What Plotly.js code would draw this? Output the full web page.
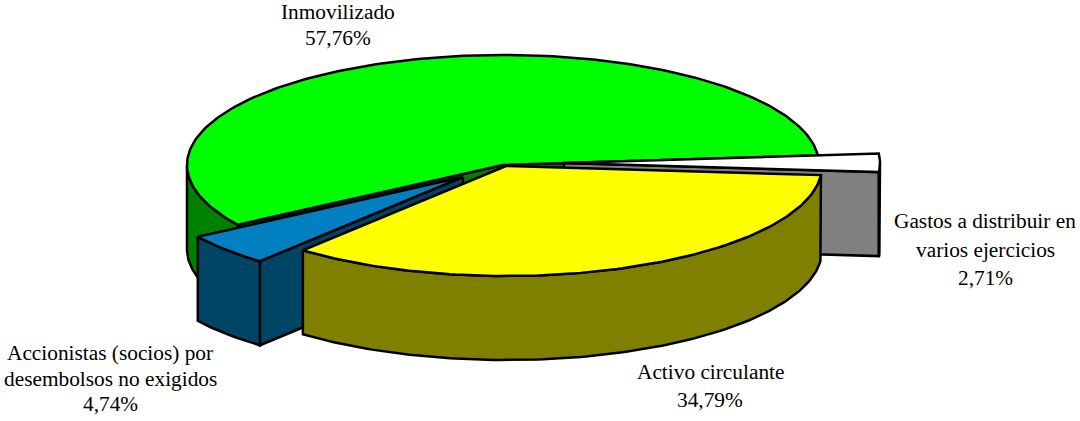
<!DOCTYPE html>
<html>
<head>
<meta charset="utf-8">
<script src="https://cdn.plot.ly/plotly-3.0.1.min.js"></script>
<style>html,body{margin:0;padding:0;background:#fff}</style>
</head>
<body>
<div id="chart" style="width:1080px;height:421px"></div>
<script>
// Data, in pie order (counter-clockwise from the start angle)
const categories = ["Inmovilizado", "Accionistas (socios) por<br>desembolsos no exigidos", "Activo circulante", "Gastos a distribuir en<br>varios ejercicios"];
const values = [57.76, 4.74, 34.79, 2.71];

// Styles
const topColors = ["#00FF00", "#0080C0", "#FFFF00", "#FFFFFF"];
const wallColors = ["#008000", "#004466", "#808000", "#808080"];

// Pie geometry, in the chart's axis units
const centre = [503, 165];
const radii = [316, 110];
const depth = 84;
const startAngle = 5;
const explodeX = [0, -40, 3, 61];
const explodeY = [0, 12, 1, -2];
const drawOrder = [0, 3, 1, 2];

// Label placement, one entry per category
const labelX = [338, 110, 710, 985];
const labelY = [12, 353, 372, 221];
const lineGap = [26, 25.5, 28, 28.5];

const rad = d => d * Math.PI / 180;
const point = (i, a, drop) => [
  centre[0] + explodeX[i] + radii[0] * Math.cos(rad(a)),
  centre[1] + explodeY[i] - radii[1] * Math.sin(rad(a)) + drop
];
const apex = (i, drop) => [centre[0] + explodeX[i], centre[1] + explodeY[i] + drop];

function poly(pts, color) {
  const closed = pts.concat([pts[0]]);
  return {
    type: "scatter", mode: "lines", fill: "toself", fillcolor: color,
    x: closed.map(p => p[0]), y: closed.map(p => p[1]),
    line: {color: "#000", width: 2.5, shape: "linear"},
    hoverinfo: "skip", showlegend: false
  };
}
function arc(i, from, to, drop) {
  const n = Math.max(2, Math.ceil(Math.abs(to - from)));
  const out = [];
  for (let k = 0; k <= n; k++) out.push(point(i, from + (to - from) * k / n, drop));
  return out;
}

const total = values.reduce((s, v) => s + v, 0);
const starts = [];
let running = startAngle;
values.forEach(v => { starts.push(running); running += v / total * 360; });
const ends = starts.map((s, i) => s + values[i] / total * 360);

const face = (i, a) => poly([apex(i, 0), point(i, a, 0), point(i, a, depth), apex(i, depth)], wallColors[i]);

const traces = [];
drawOrder.forEach(i => {
  const a0 = starts[i], a1 = ends[i];
  // cut faces: only those that look towards the viewer
  if (Math.cos(rad(a0)) > 0) traces.push(face(i, a0));
  if (Math.cos(rad(a1)) < 0) traces.push(face(i, a1));
  // outer wall: only the part of the rim on the near side (180 to 360 degrees)
  const w0 = Math.max(a0, 180), w1 = Math.min(a1, 360);
  if (w1 > w0) {
    traces.push(poly(arc(i, w0, w1, 0).concat(arc(i, w1, w0, depth)), wallColors[i]));
  }
  // top
  traces.push(poly([apex(i, 0)].concat(arc(i, a0, a1, 0)), topColors[i]));
});

const annotations = [];
categories.forEach((c, i) => {
  const lines = c.split("<br>").concat([values[i].toFixed(2).replace(".", ",") + "%"]);
  lines.forEach((t, k) => annotations.push({
    x: labelX[i], y: labelY[i] + k * lineGap[i], xref: "x", yref: "y",
    text: t, showarrow: false, xanchor: "center", yanchor: "middle",
    font: {family: "Liberation Serif, Times New Roman, serif", size: 21.33, color: "#000"}
  }));
});

Plotly.newPlot("chart", traces, {
  width: 1080, height: 421,
  margin: {l: 0, r: 0, t: 0, b: 0},
  paper_bgcolor: "#fff", plot_bgcolor: "#fff",
  showlegend: false,
  xaxis: {range: [0, 1080], visible: false, fixedrange: true},
  yaxis: {range: [421, 0], visible: false, fixedrange: true},
  annotations
}, {displayModeBar: false, staticPlot: true});
</script>
</body>
</html>
